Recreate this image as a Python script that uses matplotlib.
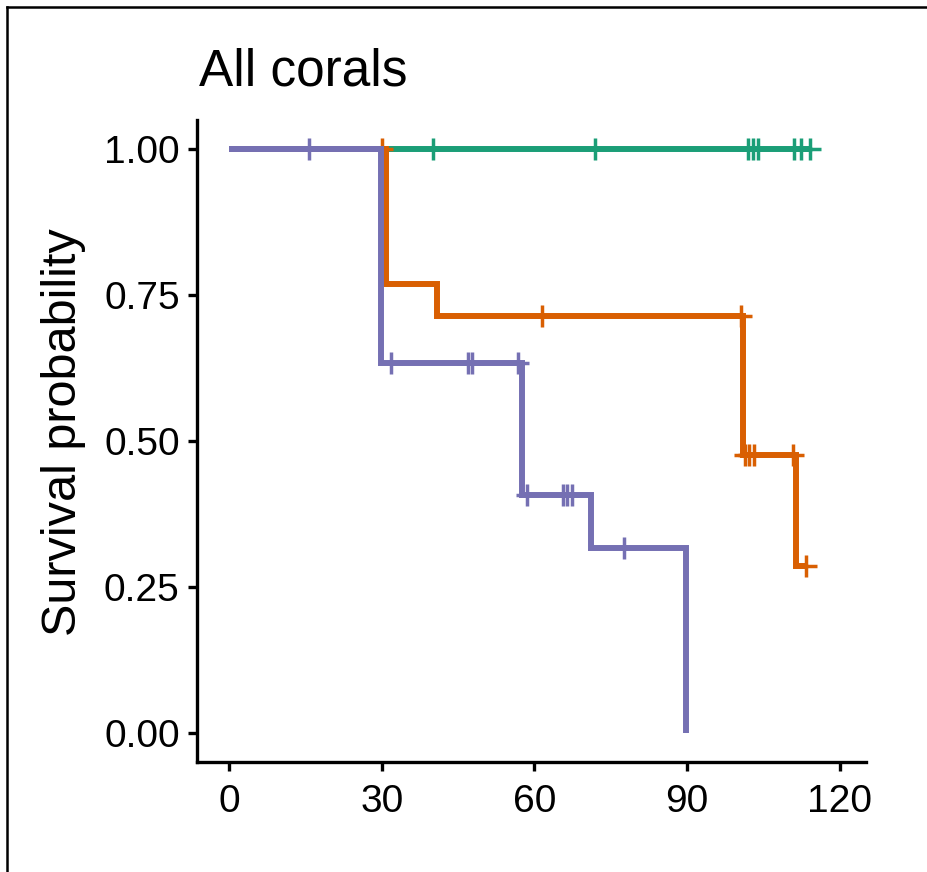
import matplotlib
matplotlib.use("Agg")
import matplotlib.pyplot as plt
from matplotlib.lines import Line2D

plt.rcParams['font.family'] = ['Liberation Sans', 'DejaVu Sans']

# ---- data ----
title = "All corals"
ylabel = "Survival probability"
xticks = [0, 30, 60, 90, 120]
yticks = [0.00, 0.25, 0.50, 0.75, 1.00]

green_t = [0, 114.2]
green_s = [1.0, 1.0]
green_cens_t = [40, 72, 102.1, 103.0, 104.0, 111.1, 112.5, 114.2]
green_cens_s = [1.0] * 8

orange_t = [0, 30.8, 40.8, 101.0, 111.4, 113.5]
orange_s = [1.0, 0.769, 0.714, 0.476, 0.286, 0.286]
orange_cens_t = [30.0, 61.5, 100.7, 101.5, 102.3, 103.1, 110.8, 113.5]
orange_cens_s = [1.0, 0.714, 0.714, 0.476, 0.476, 0.476, 0.476, 0.286]

purple_t = [0, 29.9, 57.5, 71.2, 89.9]
purple_s = [1.0, 0.633, 0.407, 0.316, 0.0]
purple_cens_t = [15.7, 31.8, 47.0, 47.7, 56.8, 58.6, 65.6, 66.5, 67.4, 77.6]
purple_cens_s = [1.0, 0.633, 0.633, 0.633, 0.633, 0.407, 0.407, 0.407, 0.407, 0.316]

colors = {"green": "#1B9E77", "orange": "#D95F02", "purple": "#7570B3"}

W, H = 928, 872
fig = plt.figure(figsize=(W / 100, H / 100), dpi=100)
ax = fig.add_axes([197 / W, 1 - 762 / H, (866 - 197) / W, (762 - 120) / H])

lw = 4.3
ms = 16.5
mew = 2.5
series = [
    (green_t, green_s, green_cens_t, green_cens_s, colors["green"], 2),
    (orange_t, orange_s, orange_cens_t, orange_cens_s, colors["orange"], 3),
    (purple_t, purple_s, purple_cens_t, purple_cens_s, colors["purple"], 4),
]
for t, s, ct, cs, c, z in series:
    ax.step(t, s, where="post", color=c, lw=lw, zorder=z, solid_joinstyle="miter",
            solid_capstyle="butt")
    ax.plot(ct, cs, linestyle="none", marker="+", ms=ms, mew=mew, color=c, zorder=z)

ax.set_xlim(-6.3, 125.2)
ax.set_ylim(-0.05, 1.05)
ax.set_xticks(xticks)
ax.set_xticklabels([str(v) for v in xticks])
ax.set_yticks(yticks)
ax.set_yticklabels([f"{v:.2f}" for v in yticks])

for sp in ["top", "right"]:
    ax.spines[sp].set_visible(False)
for sp in ["left", "bottom"]:
    ax.spines[sp].set_linewidth(2.4)
    ax.spines[sp].set_color("black")
ax.tick_params(axis="both", which="major", length=6.5, width=2.4, color="black",
               labelsize=28, labelcolor="black", pad=6)
ax.tick_params(axis="x", pad=9)

fig.text(199 / W, 1 - 86 / H, title, fontsize=37, ha="left", va="baseline", color="black")
fig.text(64 / W, 1 - 432 / H, ylabel, fontsize=35, rotation=90, ha="center", va="center",
         color="black")

# figure frame (left and top edges visible)
fig.add_artist(Line2D([7 / W, 7 / W], [0, 1 - 7 / H], transform=fig.transFigure,
                      color="black", lw=1.8))
fig.add_artist(Line2D([7 / W, 1], [1 - 7 / H, 1 - 7 / H], transform=fig.transFigure,
                      color="black", lw=1.8))

fig.savefig("out.png", dpi=100, facecolor="white")
